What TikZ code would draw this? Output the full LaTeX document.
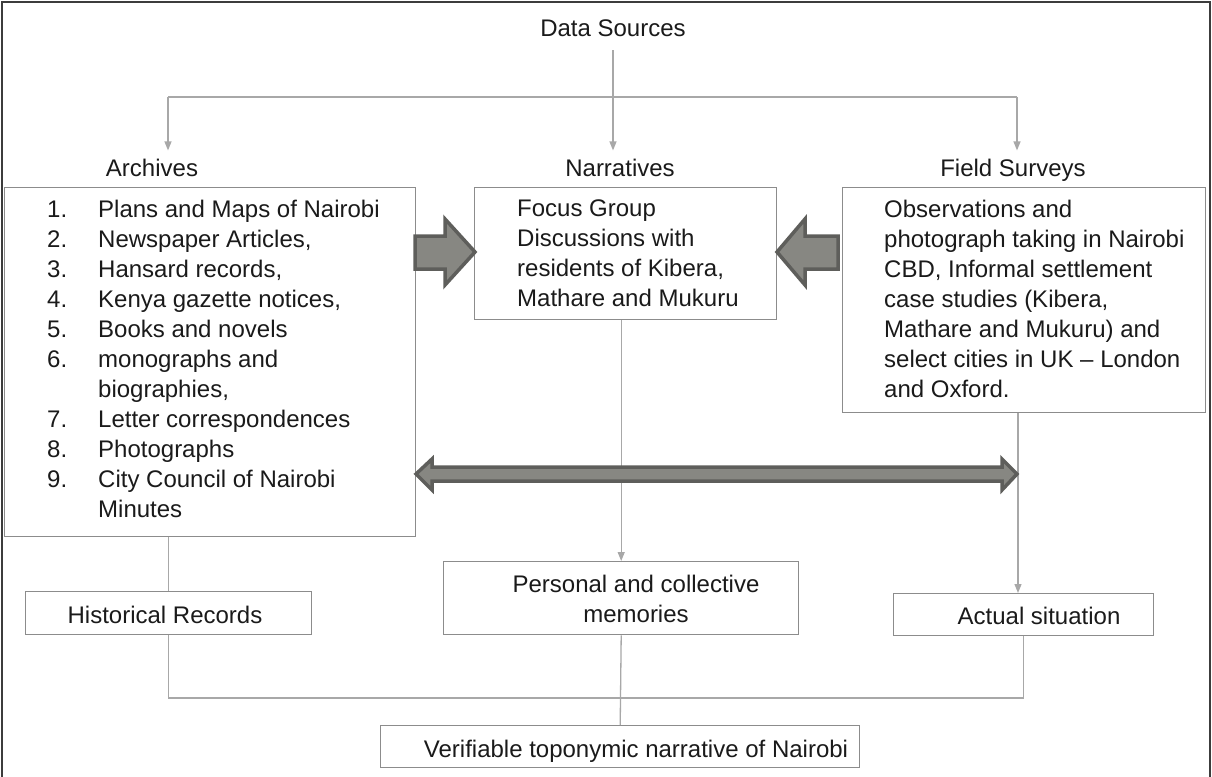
\documentclass[tikz,border=0pt]{standalone}
\usepackage{fontspec}
\setmainfont{Liberation Sans}
\usetikzlibrary{arrows.meta,calc}
\definecolor{linegray}{HTML}{A8A8A8}
\definecolor{boxgray}{HTML}{8C8C8C}
\definecolor{arrowfill}{HTML}{878782}
\definecolor{arrowedge}{HTML}{5E5E5B}
\definecolor{ink}{HTML}{1A1A1A}
\definecolor{framegray}{HTML}{3C3C3C}
% numbered entry with a fixed-width label column
\newcommand\itm[1]{\makebox[51pt][l]{#1}}

\begin{document}
\begin{tikzpicture}[x=1pt,y=-1pt,
  every node/.style={font=\fontsize{24}{30}\selectfont, text=ink},
  box/.style={draw=boxgray, line width=1.4pt, inner sep=0pt, anchor=north west},
  txt/.style={inner sep=0pt, align=left, anchor=north west},
  lbl/.style={inner sep=0pt, anchor=base},
  head/.style={inner sep=8pt, anchor=base},
  conn/.style={draw=linegray, line width=1.3pt},
  tip/.style={-{Triangle[length=9pt,width=7pt]}},
  blockarrow/.style={fill=arrowfill, draw=arrowedge, line width=3.5pt, line join=miter},
  frame/.style={draw=framegray, line width=2.5pt}]

\useasboundingbox (0,0) rectangle (1212,776);
\draw[frame] (2,780) -- (2,2) -- (1210,2) -- (1210,780);

% title and the three source headings
\node[lbl, inner ysep=13pt] (ds) at (613,37) {Data Sources};
\node[head] (archhead) at (152,176) {Archives};
\node[head] (narrhead) at (620,176) {Narratives};
\node[head] (fieldhead) at (1013,176) {Field Surveys};

% source boxes
\node[box, minimum width=411pt, minimum height=349pt] (arch) at (4,187) {};
\node[box, minimum width=302pt, minimum height=132pt] (narr) at (474,187) {};
\node[box, minimum width=363pt, minimum height=225pt] (field) at (842,187) {};

\node[txt] (archlist) at (47,200) {%
\itm{1.}Plans and Maps of Nairobi\\
\itm{2.}Newspaper Articles,\\
\itm{3.}Hansard records,\\
\itm{4.}Kenya gazette notices,\\
\itm{5.}Books and novels\\
\itm{6.}monographs and\\
\itm{}biographies,\\
\itm{7.}Letter correspondences\\
\itm{8.}Photographs\\
\itm{9.}City Council of Nairobi\\
\itm{}Minutes};
\node[txt] (narrtxt) at (517,200) {Focus Group\\Discussions with\\residents of Kibera,\\Mathare and Mukuru};
\node[txt] (fieldtxt) at (884,200) {Observations and\\photograph taking in Nairobi\\CBD, Informal settlement\\case studies (Kibera,\\Mathare and Mukuru) and\\select cities in UK -- London\\and Oxford.};

% outcome boxes
\node[box, minimum width=286pt, minimum height=43pt] (hist) at (25,591) {};
\node[box, minimum width=355pt, minimum height=73pt] (pers) at (443,561) {};
\node[box, minimum width=260pt, minimum height=42pt] (act) at (893,593) {};
\node[box, minimum width=479pt, minimum height=42pt] (veri) at (380,725) {};

\node[lbl] (histtxt) at (165,623) {Historical Records};
\node[inner sep=0pt, align=center, anchor=north] (perstxt) at (636,575) {Personal and collective\\memories};
\node[lbl] (acttxt) at (1039,624) {Actual situation};
\node[lbl] (veritxt) at (636,757) {Verifiable toponymic narrative of Nairobi};

% branching from the title
\coordinate (jl) at (168,97);
\coordinate (jr) at (1017,97);
\coordinate (fx) at (1018,0);
\draw[conn] (jl) -- (jr);
\draw[conn, tip] (ds.south) -- (ds.south |- narrhead.north);
\draw[conn, tip] (jl) -- (jl |- archhead.north);
\draw[conn, tip] (jr) -- (jr |- fieldhead.north);

% sources down to outcomes
\draw[conn] (arch.south -| hist.north) -- (hist.north);
\draw[conn, tip] (narr.south -| pers.north) -- (pers.north);
\draw[conn, tip] (field.south -| fx) -- (act.north -| fx);

% outcomes merge into the final narrative
\coordinate (jb) at (620,698);
\draw[conn] (hist.south) |- (jb) -| (act.south);
\draw[conn] (pers.south) -- (veri.north);

% block arrows between the source boxes
\draw[blockarrow] (415,236) -- (445,236) -- (445,219) -- (475,252) -- (445,285) -- (445,269) -- (415,269) -- cycle;
\draw[blockarrow] (838,236) -- (805,236) -- (805,219) -- (777,252) -- (805,285) -- (805,269) -- (838,269) -- cycle;
\draw[blockarrow] (416,474) -- (432,459) -- (432,467) -- (1002,467) -- (1002,459) -- (1017,474)
  -- (1002,490) -- (1002,481) -- (432,481) -- (432,490) -- cycle;
\end{tikzpicture}
\end{document}
